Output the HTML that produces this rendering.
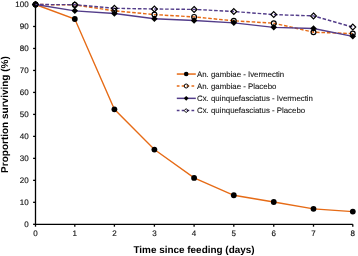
<!DOCTYPE html>
<html><head><meta charset="utf-8"><style>
html,body{margin:0;padding:0;background:#fff;}
svg{display:block;will-change:transform;}
text{text-rendering:geometricPrecision;}
.t{font-family:"Liberation Sans",sans-serif;font-size:8px;fill:#111;stroke:#111;stroke-width:0.15px;}
.l{font-size:7.85px;stroke-width:0.08px;fill:#111;}
.b{font-family:"Liberation Sans",sans-serif;font-weight:bold;fill:#000;}
</style></head><body>
<svg width="358" height="256" viewBox="0 0 358 256">
<path d="M35.5 4.5V224.3H352.8" fill="none" stroke="#000" stroke-width="1.3"/>
<path d="M33.1 224.30H35.5" stroke="#000" stroke-width="1.3"/>
<text x="28.6" y="226.90" text-anchor="end" class="t">0</text>
<path d="M33.1 202.32H35.5" stroke="#000" stroke-width="1.3"/>
<text x="28.6" y="204.92" text-anchor="end" class="t">10</text>
<path d="M33.1 180.34H35.5" stroke="#000" stroke-width="1.3"/>
<text x="28.6" y="182.94" text-anchor="end" class="t">20</text>
<path d="M33.1 158.36H35.5" stroke="#000" stroke-width="1.3"/>
<text x="28.6" y="160.96" text-anchor="end" class="t">30</text>
<path d="M33.1 136.38H35.5" stroke="#000" stroke-width="1.3"/>
<text x="28.6" y="138.98" text-anchor="end" class="t">40</text>
<path d="M33.1 114.40H35.5" stroke="#000" stroke-width="1.3"/>
<text x="28.6" y="117.00" text-anchor="end" class="t">50</text>
<path d="M33.1 92.42H35.5" stroke="#000" stroke-width="1.3"/>
<text x="28.6" y="95.02" text-anchor="end" class="t">60</text>
<path d="M33.1 70.44H35.5" stroke="#000" stroke-width="1.3"/>
<text x="28.6" y="73.04" text-anchor="end" class="t">70</text>
<path d="M33.1 48.46H35.5" stroke="#000" stroke-width="1.3"/>
<text x="28.6" y="51.06" text-anchor="end" class="t">80</text>
<path d="M33.1 26.48H35.5" stroke="#000" stroke-width="1.3"/>
<text x="28.6" y="29.08" text-anchor="end" class="t">90</text>
<path d="M33.1 4.50H35.5" stroke="#000" stroke-width="1.3"/>
<text x="28.6" y="7.10" text-anchor="end" class="t">100</text>
<path d="M35.50 224.3V226.70000000000002" stroke="#000" stroke-width="1.3"/>
<text x="35.50" y="236.4" text-anchor="middle" class="t">0</text>
<path d="M74.80 224.3V226.70000000000002" stroke="#000" stroke-width="1.3"/>
<text x="74.80" y="236.4" text-anchor="middle" class="t">1</text>
<path d="M114.40 224.3V226.70000000000002" stroke="#000" stroke-width="1.3"/>
<text x="114.40" y="236.4" text-anchor="middle" class="t">2</text>
<path d="M154.40 224.3V226.70000000000002" stroke="#000" stroke-width="1.3"/>
<text x="154.40" y="236.4" text-anchor="middle" class="t">3</text>
<path d="M194.10 224.3V226.70000000000002" stroke="#000" stroke-width="1.3"/>
<text x="194.10" y="236.4" text-anchor="middle" class="t">4</text>
<path d="M233.80 224.3V226.70000000000002" stroke="#000" stroke-width="1.3"/>
<text x="233.80" y="236.4" text-anchor="middle" class="t">5</text>
<path d="M273.75 224.3V226.70000000000002" stroke="#000" stroke-width="1.3"/>
<text x="273.75" y="236.4" text-anchor="middle" class="t">6</text>
<path d="M313.50 224.3V226.70000000000002" stroke="#000" stroke-width="1.3"/>
<text x="313.50" y="236.4" text-anchor="middle" class="t">7</text>
<path d="M352.80 224.3V226.70000000000002" stroke="#000" stroke-width="1.3"/>
<text x="352.80" y="236.4" text-anchor="middle" class="t">8</text>
<polyline points="35.50,4.50 74.80,19.00 114.40,109.30 154.40,149.60 194.10,177.90 233.80,195.25 273.75,202.00 313.50,208.80 352.80,211.55" fill="none" stroke="#E66B16" stroke-width="1.35"/>
<circle cx="35.50" cy="4.50" r="2.9" fill="#000"/>
<circle cx="74.80" cy="19.00" r="2.9" fill="#000"/>
<circle cx="114.40" cy="109.30" r="2.9" fill="#000"/>
<circle cx="154.40" cy="149.60" r="2.9" fill="#000"/>
<circle cx="194.10" cy="177.90" r="2.9" fill="#000"/>
<circle cx="233.80" cy="195.25" r="2.9" fill="#000"/>
<circle cx="273.75" cy="202.00" r="2.9" fill="#000"/>
<circle cx="313.50" cy="208.80" r="2.9" fill="#000"/>
<circle cx="352.80" cy="211.55" r="2.9" fill="#000"/>
<polyline points="35.50,4.50 74.80,4.90 114.40,10.80 154.40,14.60 194.10,16.90 233.80,20.80 273.75,23.20 313.50,32.20 352.80,33.60" fill="none" stroke="#E66B16" stroke-width="1.45" stroke-dasharray="3.6 1.85" stroke-dashoffset="0.923"/>
<circle cx="35.50" cy="4.50" r="2.4" fill="none" stroke="#000" stroke-width="1.2"/>
<circle cx="74.80" cy="4.90" r="2.4" fill="none" stroke="#000" stroke-width="1.2"/>
<circle cx="114.40" cy="10.80" r="2.4" fill="none" stroke="#000" stroke-width="1.2"/>
<circle cx="154.40" cy="14.60" r="2.4" fill="none" stroke="#000" stroke-width="1.2"/>
<circle cx="194.10" cy="16.90" r="2.4" fill="none" stroke="#000" stroke-width="1.2"/>
<circle cx="233.80" cy="20.80" r="2.4" fill="none" stroke="#000" stroke-width="1.2"/>
<circle cx="273.75" cy="23.20" r="2.4" fill="none" stroke="#000" stroke-width="1.2"/>
<circle cx="313.50" cy="32.20" r="2.4" fill="none" stroke="#000" stroke-width="1.2"/>
<circle cx="352.80" cy="33.60" r="2.4" fill="none" stroke="#000" stroke-width="1.2"/>
<polyline points="35.50,4.50 74.80,10.80 114.40,13.50 154.40,18.75 194.10,20.50 233.80,22.80 273.75,27.30 313.50,28.50 352.80,36.30" fill="none" stroke="#533D8A" stroke-width="1.35"/>
<path d="M35.50 1.20L38.80 4.50L35.50 7.80L32.20 4.50Z" fill="#000"/>
<path d="M74.80 7.50L78.10 10.80L74.80 14.10L71.50 10.80Z" fill="#000"/>
<path d="M114.40 10.20L117.70 13.50L114.40 16.80L111.10 13.50Z" fill="#000"/>
<path d="M154.40 15.45L157.70 18.75L154.40 22.05L151.10 18.75Z" fill="#000"/>
<path d="M194.10 17.20L197.40 20.50L194.10 23.80L190.80 20.50Z" fill="#000"/>
<path d="M233.80 19.50L237.10 22.80L233.80 26.10L230.50 22.80Z" fill="#000"/>
<path d="M273.75 24.00L277.05 27.30L273.75 30.60L270.45 27.30Z" fill="#000"/>
<path d="M313.50 25.20L316.80 28.50L313.50 31.80L310.20 28.50Z" fill="#000"/>
<path d="M352.80 33.00L356.10 36.30L352.80 39.60L349.50 36.30Z" fill="#000"/>
<polyline points="35.50,4.50 74.80,4.70 114.40,8.30 154.40,9.00 194.10,9.40 233.80,11.50 273.75,14.60 313.50,15.90 352.80,27.10" fill="none" stroke="#533D8A" stroke-width="1.4" stroke-dasharray="3.6 1.85" stroke-dashoffset="1.023"/>
<path d="M35.50 1.60L38.40 4.50L35.50 7.40L32.60 4.50Z" fill="none" stroke="#000" stroke-width="1.2"/>
<path d="M74.80 1.80L77.70 4.70L74.80 7.60L71.90 4.70Z" fill="none" stroke="#000" stroke-width="1.2"/>
<path d="M114.40 5.40L117.30 8.30L114.40 11.20L111.50 8.30Z" fill="none" stroke="#000" stroke-width="1.2"/>
<path d="M154.40 6.10L157.30 9.00L154.40 11.90L151.50 9.00Z" fill="none" stroke="#000" stroke-width="1.2"/>
<path d="M194.10 6.50L197.00 9.40L194.10 12.30L191.20 9.40Z" fill="none" stroke="#000" stroke-width="1.2"/>
<path d="M233.80 8.60L236.70 11.50L233.80 14.40L230.90 11.50Z" fill="none" stroke="#000" stroke-width="1.2"/>
<path d="M273.75 11.70L276.65 14.60L273.75 17.50L270.85 14.60Z" fill="none" stroke="#000" stroke-width="1.2"/>
<path d="M313.50 13.00L316.40 15.90L313.50 18.80L310.60 15.90Z" fill="none" stroke="#000" stroke-width="1.2"/>
<path d="M352.80 24.20L355.70 27.10L352.80 30.00L349.90 27.10Z" fill="none" stroke="#000" stroke-width="1.2"/>
<path d="M176.8 74.05H195.8" stroke="#E66B16" stroke-width="1.5"/>
<circle cx="186.20" cy="74.05" r="2.3" fill="#000"/>
<text x="197.0" y="76.65" class="t l">An. gambiae - Ivermectin</text>
<path d="M176.8 86.0H195.8" stroke="#E66B16" stroke-width="1.5" stroke-dasharray="2.7 2.2"/>
<circle cx="186.20" cy="86.00" r="2.0" fill="none" stroke="#000" stroke-width="1.0"/>
<text x="197.0" y="88.60" class="t l">An. gambiae - Placebo</text>
<path d="M176.8 98.35H195.8" stroke="#533D8A" stroke-width="1.5"/>
<path d="M186.20 95.95L188.60 98.35L186.20 100.75L183.80 98.35Z" fill="#000"/>
<text x="197.0" y="100.95" class="t l">Cx. quinquefasciatus - Ivermectin</text>
<path d="M176.8 110.6H195.8" stroke="#533D8A" stroke-width="1.5" stroke-dasharray="2.7 2.2"/>
<path d="M186.20 108.60L188.20 110.60L186.20 112.60L184.20 110.60Z" fill="none" stroke="#000" stroke-width="1.0"/>
<text x="197.0" y="113.20" class="t l">Cx. quinquefasciatus - Placebo</text>
<text x="194.0" y="252.85" text-anchor="middle" class="b" font-size="9.93">Time since feeding (days)</text>
<text transform="translate(7.95,114.55) rotate(-90)" text-anchor="middle" class="b" font-size="10">Proportion surviving (%)</text>
</svg></body></html>
